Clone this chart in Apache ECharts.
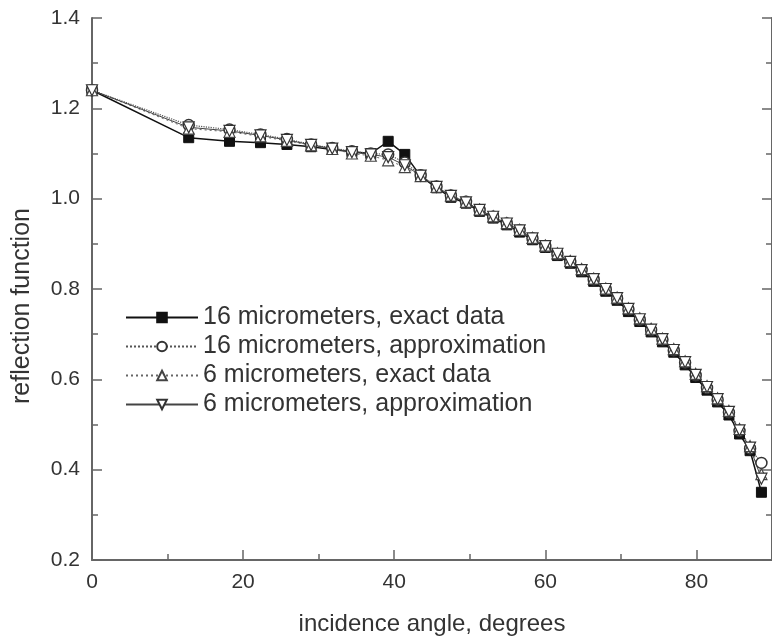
<!DOCTYPE html>
<html>
<head>
<meta charset="utf-8">
<script src="https://cdn.jsdelivr.net/npm/echarts@6/dist/echarts.min.js"></script>
<style>html,body{margin:0;padding:0;background:#fff;}#c{width:772px;height:641px;}</style>
</head>
<body>
<div id="c"></div>
<script>
var angles = [0, 12.8, 18.2, 22.3, 25.8, 29.0, 31.8, 34.4, 36.9, 39.2, 41.4, 43.5, 45.6, 47.5, 49.5, 51.3, 53.1, 54.9, 56.6, 58.3, 60.0, 61.6, 63.3, 64.8, 66.4, 68.0, 69.5, 71.0, 72.5, 74.0, 75.5, 77.0, 78.5, 79.9, 81.4, 82.8, 84.3, 85.7, 87.1, 88.6];
var exact16 = [1.24, 1.135, 1.127, 1.124, 1.12, 1.115, 1.109, 1.104, 1.10, 1.127, 1.098, 1.05, 1.024, 1.003, 0.99, 0.972, 0.957, 0.942, 0.926, 0.909, 0.892, 0.874, 0.857, 0.838, 0.817, 0.795, 0.775, 0.75, 0.728, 0.705, 0.683, 0.66, 0.632, 0.604, 0.576, 0.55, 0.521, 0.479, 0.442, 0.35];
var approx16 = [1.24, 1.163, 1.153, 1.142, 1.132, 1.12, 1.112, 1.105, 1.10, 1.098, 1.08, 1.052, 1.027, 1.007, 0.993, 0.975, 0.96, 0.945, 0.93, 0.912, 0.895, 0.877, 0.86, 0.842, 0.821, 0.799, 0.779, 0.755, 0.732, 0.709, 0.688, 0.664, 0.637, 0.609, 0.581, 0.555, 0.527, 0.486, 0.447, 0.415];
var exact6 = [1.24, 1.155, 1.148, 1.138, 1.128, 1.118, 1.11, 1.10, 1.095, 1.085, 1.07, 1.05, 1.026, 1.007, 0.993, 0.976, 0.961, 0.946, 0.931, 0.913, 0.896, 0.879, 0.862, 0.844, 0.823, 0.801, 0.781, 0.757, 0.735, 0.712, 0.69, 0.667, 0.64, 0.612, 0.585, 0.558, 0.53, 0.49, 0.452, 0.39];
var approx6 = [1.24, 1.158, 1.15, 1.14, 1.13, 1.119, 1.111, 1.103, 1.098, 1.092, 1.074, 1.051, 1.026, 1.006, 0.992, 0.975, 0.96, 0.945, 0.93, 0.912, 0.895, 0.878, 0.86, 0.842, 0.822, 0.8, 0.78, 0.756, 0.733, 0.71, 0.689, 0.665, 0.638, 0.61, 0.583, 0.556, 0.528, 0.487, 0.449, 0.38];
var seriesNames = ['16 micrometers, exact data', '16 micrometers, approximation', '6 micrometers, exact data', '6 micrometers, approximation'];
var xTitle = 'incidence angle, degrees';
var yTitle = 'reflection function';

function pairs(ys) { return angles.map(function (a, i) { return [a, ys[i]]; }); }

var FONT = '"Liberation Sans", Arial, sans-serif';
var axisCol = '#666';
var txtCol = '#333';

var chart = echarts.init(document.getElementById('c'), null, {renderer: 'canvas'});
var common = {type: 'line', symbolSize: 11, z: 2};
chart.setOption({
  animation: false,
  backgroundColor: '#fff',
  grid: {left: 92, top: 18, width: 685, height: 548},
  legend: {
    orient: 'vertical', left: 120, top: 300, itemWidth: 72, itemHeight: 12, itemGap: 4,
    textStyle: {fontFamily: FONT, fontSize: 25, color: txtCol},
    data: seriesNames
  },
  xAxis: [{
    type: 'value', min: 0, max: 90, interval: 20,
    name: xTitle, nameLocation: 'middle', nameGap: 52,
    nameTextStyle: {fontFamily: FONT, fontSize: 24, color: txtCol},
    axisLine: {lineStyle: {color: axisCol, width: 2}},
    axisTick: {inside: true, length: 10, lineStyle: {color: axisCol, width: 1.5}},
    minorTick: {show: true, splitNumber: 2, length: 6, lineStyle: {color: axisCol, width: 1.5}},
    splitLine: {show: false},
    axisLabel: {fontFamily: FONT, fontSize: 21, color: txtCol, margin: 12, showMaxLabel: false}
  }],
  yAxis: [{
    type: 'value', min: 0.2, max: 1.4, interval: 0.2,
    name: yTitle, nameLocation: 'middle', nameGap: 57,
    nameTextStyle: {fontFamily: FONT, fontSize: 25, color: txtCol, padding: [0, 34, 0, 0]},
    axisLine: {show: true, lineStyle: {color: axisCol, width: 2}},
    axisTick: {show: true, inside: true, length: 10, lineStyle: {color: axisCol, width: 1.5}},
    minorTick: {show: true, splitNumber: 2, length: 6, lineStyle: {color: axisCol, width: 1.5}},
    splitLine: {show: false},
    axisLabel: {fontFamily: FONT, fontSize: 21, color: txtCol, margin: 12, formatter: function (v) { return v.toFixed(1); }}
  }, {
    type: 'value', min: 0.2, max: 1.4, interval: 0.2, position: 'right',
    axisLine: {show: true, lineStyle: {color: axisCol, width: 2}},
    axisTick: {show: true, inside: true, length: 10, lineStyle: {color: axisCol, width: 1.5}},
    minorTick: {show: true, splitNumber: 2, length: 6, lineStyle: {color: axisCol, width: 1.5}},
    splitLine: {show: false},
    axisLabel: {show: false}
  }],
  series: [
    Object.assign({}, common, {
      name: seriesNames[0], data: pairs(exact16), symbol: 'rect', symbolSize: 10,
      lineStyle: {color: '#111', width: 1.5, type: 'solid'},
      itemStyle: {color: '#111', borderColor: '#111', borderWidth: 1}
    }),
    Object.assign({}, common, {
      name: seriesNames[1], data: pairs(approx16), symbol: 'circle', symbolSize: 11,
      lineStyle: {color: '#555', width: 1.2, type: 'dotted'},
      itemStyle: {color: '#fff', borderColor: '#333', borderWidth: 1.5}
    }),
    Object.assign({}, common, {
      name: seriesNames[2], data: pairs(exact6), symbol: 'triangle', symbolSize: 11,
      lineStyle: {color: '#666', width: 1, type: [2, 3]},
      itemStyle: {color: '#fff', borderColor: '#444', borderWidth: 1.2}
    }),
    Object.assign({}, common, {
      name: seriesNames[3], data: pairs(approx6), symbol: 'triangle', symbolRotate: 180, symbolSize: 11,
      lineStyle: {color: '#444', width: 1, type: 'solid'},
      itemStyle: {color: '#fff', borderColor: '#333', borderWidth: 1.2}
    })
  ]
});
</script>
</body>
</html>
